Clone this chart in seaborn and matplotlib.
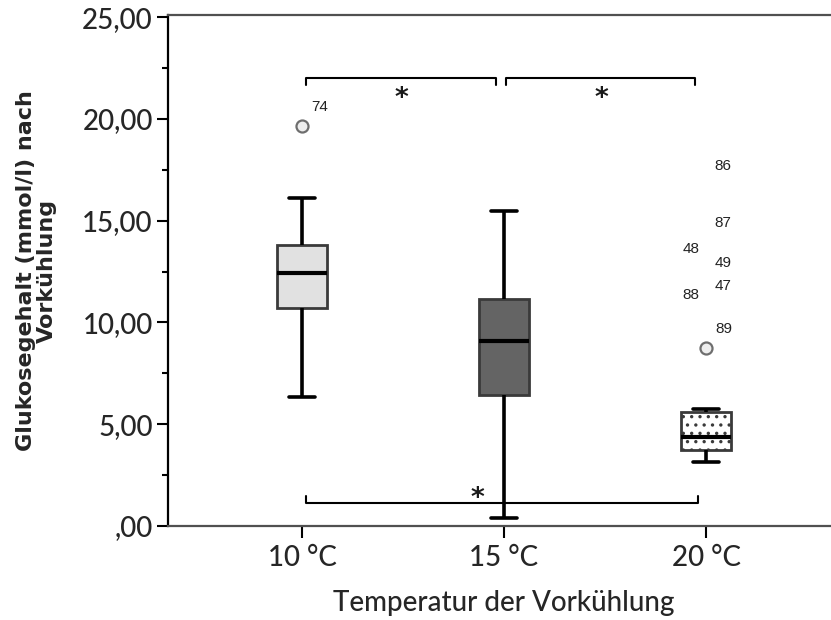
import matplotlib
matplotlib.use("Agg")
import matplotlib.pyplot as plt
from matplotlib.ticker import FixedLocator, FuncFormatter
import seaborn as sns
import pandas as pd

# Temperature groups
temperatures = ["10 °C", "15 °C", "20 °C"]

# Five-number summaries per group (mmol/l)
whisker_low = [6.35, 0.38, 3.14]
quartile_1 = [10.69, 6.45, 3.74]
medians = [12.41, 9.11, 4.37]
quartile_3 = [13.79, 11.13, 5.60]
whisker_high = [16.10, 15.47, 5.75]

# Outliers (drawn as circles) with case numbers
outlier_group = ["10 °C", "20 °C"]
outlier_value = [19.67, 8.75]
outlier_case = ["74", "89"]

# Extreme values of the 20 °C group (case numbers only)
extreme_case = ["86", "87", "48", "49", "47", "88"]
extreme_value = [16.76, 13.97, 12.69, 12.00, 10.85, 10.39]
extreme_side = ["right", "right", "left", "right", "right", "left"]

# Significant pairwise comparisons
sig_pairs = [(0, 1), (1, 2), (0, 2)]

box_fill = {"10 °C": "#e1e1e1", "15 °C": "#646464", "20 °C": "#ffffff"}

rows = []
for i, t in enumerate(temperatures):
    for v in (whisker_low[i], quartile_1[i], medians[i], quartile_3[i], whisker_high[i]):
        rows.append({"Temperatur": t, "Glukose": v})
df = pd.DataFrame(rows)
df_out = pd.DataFrame({"Temperatur": outlier_group, "Glukose": outlier_value})

sns.set_theme(style="ticks")
plt.rcParams["font.family"] = ["Lato", "DejaVu Sans"]
plt.rcParams["hatch.color"] = "#6a6a6a"
plt.rcParams["hatch.linewidth"] = 1.2

W, H = 831, 620
fig = plt.figure(figsize=(W / 100, H / 100), dpi=100)
ax = fig.add_axes([168 / W, 94 / H, 672 / W, 511 / H])

sns.boxplot(
    data=df, x="Temperatur", y="Glukose", hue="Temperatur",
    order=temperatures, hue_order=temperatures, palette=box_fill,
    whis=(0, 100), width=0.25, linecolor="#3a3a3a", linewidth=2,
    legend=False, ax=ax,
    medianprops=dict(color="black", linewidth=3),
    whiskerprops=dict(color="black", linewidth=2.6),
    capprops=dict(color="black", linewidth=2.6),
)
for patch in ax.patches:
    if tuple(round(c, 3) for c in patch.get_facecolor()[:3]) == (1.0, 1.0, 1.0):
        patch.set_hatch("..")

sns.scatterplot(
    data=df_out, x="Temperatur", y="Glukose", ax=ax, s=75,
    marker="o", facecolor="#eeeeee", edgecolor="#6e6e6e", linewidth=1.6,
    zorder=5, legend=False,
)

label_font = dict(family=["Liberation Sans", "DejaVu Sans"], fontsize=11, color="#222222")
for g, v, c in zip(outlier_group, outlier_value, outlier_case):
    ax.annotate(c, (temperatures.index(g), v), xytext=(18, 19),
                textcoords="offset pixels", ha="center", va="center", **label_font)
for c, v, side in zip(extreme_case, extreme_value, extreme_side):
    dx = 17 if side == "right" else -15
    ax.annotate(c, (2, v), xytext=(dx, 19),
                textcoords="offset pixels", ha="center", va="center", **label_font)

# Significance brackets
bracket_y = {(0, 1): 22.0, (1, 2): 22.0, (0, 2): 1.15}
star_x = {(0, 1): 0.49, (1, 2): 1.48, (0, 2): 0.87}
star_font = dict(fontsize=19, family="DejaVu Sans", fontweight="bold", color="#1a1a1a",
                 ha="center", va="center")
for a, b in sig_pairs:
    y = bracket_y[(a, b)]
    if (a, b) == (0, 2):
        x0, x1 = a + 0.02, b - 0.04
        ax.plot([x0, x0, x1, x1], [y + 0.33, y, y, y + 0.33], color="black", lw=1.5)
        ax.text(star_x[(a, b)], y + 0.2, "*", **star_font)
    else:
        x0 = a + (0.02 if a == 0 else 0.01)
        x1 = b - (0.04 if a == 0 else 0.055)
        ax.plot([x0, x0, x1, x1], [y - 0.33, y, y, y - 0.33], color="black", lw=1.5)
        ax.text(star_x[(a, b)], y - 1.05, "*", **star_font)

ax.set_xlim(-0.663, 2.663)
ax.set_ylim(0, 25.1)
ax.yaxis.set_major_locator(FixedLocator([0, 5, 10, 15, 20, 25]))
ax.yaxis.set_minor_locator(FixedLocator([2.5, 7.5, 12.5, 17.5, 22.5]))


def fmt(v, pos):
    s = f"{v:.2f}".replace(".", ",")
    return s[1:] if s.startswith("0") else s


ax.yaxis.set_major_formatter(FuncFormatter(fmt))
ax.tick_params(axis="y", which="major", length=8, width=1.5, pad=3, labelsize=20, color="black")
ax.tick_params(axis="y", which="minor", length=4, width=1.5, color="black")
ax.tick_params(axis="x", which="major", length=8.5, width=1.5, pad=5, labelsize=20, color="black")
for lbl in ax.get_xticklabels() + ax.get_yticklabels():
    lbl.set_fontweight("medium")

ax.spines["left"].set_color("black")
ax.spines["left"].set_linewidth(1.6)
for side in ("top", "bottom"):
    ax.spines[side].set_color("#505050")
    ax.spines[side].set_linewidth(1.6)
ax.spines["right"].set_visible(False)

ax.set_xlabel("Temperatur der Vorkühlung", fontsize=20, fontweight="medium", labelpad=14)
ax.set_ylabel("Glukosegehalt (mmol/l) nach\nVorkühlung", fontsize=16,
              family=["DejaVu Sans"], fontweight="bold", linespacing=1.1)
ax.yaxis.set_label_coords(-0.165, 0.5)

fig.savefig("out.png", dpi=100)
